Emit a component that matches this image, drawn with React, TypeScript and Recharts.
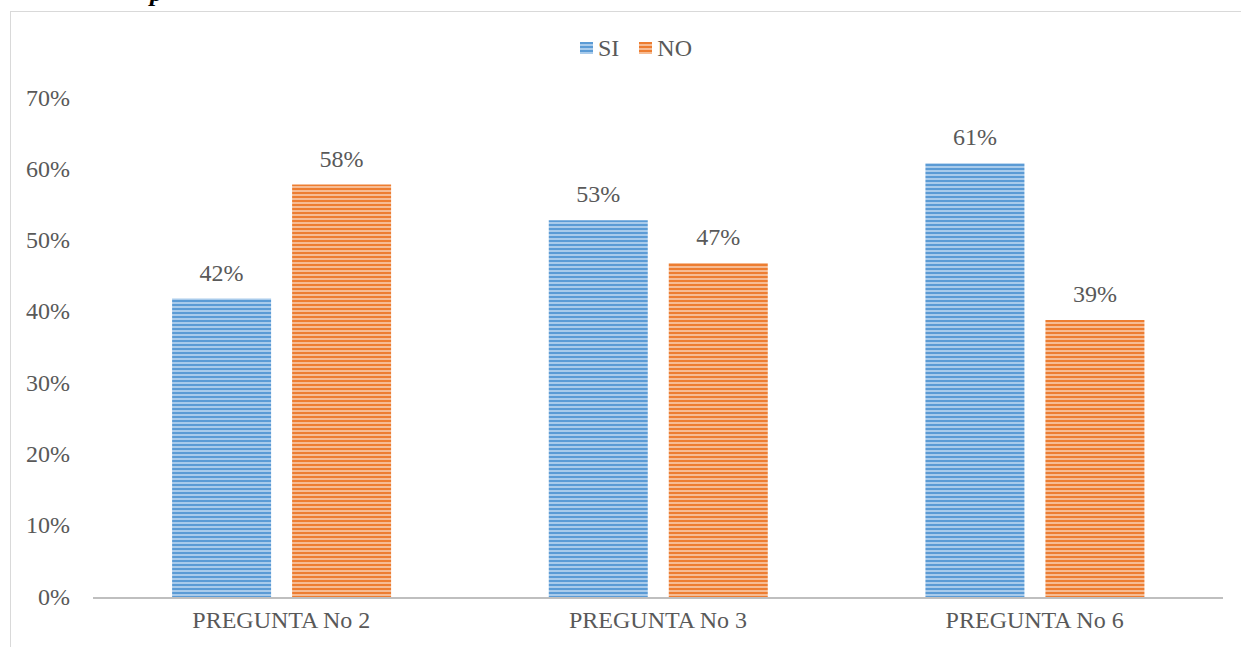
import React from "react";
import { BarChart, Bar, XAxis, YAxis, LabelList } from "recharts";

const categories = ["PREGUNTA No 2", "PREGUNTA No 3", "PREGUNTA No 6"];
const siValues = [0.42, 0.53, 0.61];
const noValues = [0.58, 0.47, 0.39];
const yTicks = [0, 0.1, 0.2, 0.3, 0.4, 0.5, 0.6, 0.7];
const series = [
  { key: "SI", name: "SI", dark: "#5B9BD5", light: "#A9CBEB", pattern: "stripeBlue" },
  { key: "NO", name: "NO", dark: "#ED7D31", light: "#F6BC94", pattern: "stripeOrange" },
];

const data = categories.map((c, i) => ({ name: c, SI: siValues[i], NO: noValues[i] }));

const font = "Liberation Serif";
const textColor = "#595959";
const fs = 24;
const pct = (v: number) => `${Math.round(v * 100)}%`;

export default function App() {
  return (
    <div style={{ position: "fixed", left: 0, top: 0, width: 1241, height: 647, background: "#fff", overflow: "hidden", fontFamily: font }}>
      <svg width="0" height="0" style={{ position: "absolute" }}>
        <defs>
          {series.map((s) => (
            <pattern key={s.pattern} id={s.pattern} patternUnits="userSpaceOnUse" width="8" height="4">
              <rect x="0" y="0" width="8" height="4" fill={s.light} />
              <rect x="0" y="0" width="8" height="2" fill={s.dark} />
            </pattern>
          ))}
        </defs>
      </svg>
      {/* frame */}
      <div style={{ position: "absolute", left: 10, top: 11, width: 1240, height: 700, borderLeft: "1px solid #D9D9D9", borderTop: "1px solid #D9D9D9" }} />
      {/* cut-off caption */}
      <div style={{ position: "absolute", left: 150, top: -22, fontSize: 26, fontStyle: "italic", fontWeight: "bold", color: "#000" }}>p</div>
      {/* legend */}
      <div style={{ position: "absolute", left: 580, top: 34, display: "flex", gap: 20, fontSize: fs, color: textColor, lineHeight: "28px" }}>
        {series.map((s) => (
          <div key={s.key} style={{ display: "flex", alignItems: "center", gap: 5 }}>
            <svg width="13" height="12">
              <rect x="0" y="0" width="13" height="12" fill={`url(#${s.pattern})`} />
            </svg>
            <span>{s.name}</span>
          </div>
        ))}
      </div>
      <div style={{ position: "absolute", left: 0, top: 0 }}>
        <BarChart
          width={1241}
          height={647}
          data={data}
          margin={{ top: 99, right: 18, bottom: 0, left: 0 }}
          barGap={21}
          barCategoryGap="21%"
          style={{ fontFamily: font }}
        >
          <YAxis
            width={93}
            domain={[0, 0.7]}
            ticks={yTicks}
            tickFormatter={pct}
            axisLine={false}
            tickLine={false}
            tickSize={0}
            tickMargin={23}
            tick={{ fill: textColor, fontSize: fs, fontFamily: font, dy: -2 }}
            interval={0}
          />
          <XAxis
            dataKey="name"
            height={49}
            axisLine={{ stroke: "#BFBFBF", strokeWidth: 2 }}
            tickLine={false}
            tickSize={0}
            tickMargin={13}
            tick={{ fill: textColor, fontSize: fs, fontFamily: font }}
          />
          {series.map((s) => (
            <Bar key={s.key} dataKey={s.key} name={s.name} fill={`url(#${s.pattern})`} isAnimationActive={false}>
              <LabelList dataKey={s.key} position="top" offset={18} formatter={(v: any) => pct(Number(v))} style={{ fill: textColor, fontSize: fs, fontFamily: font }} />
            </Bar>
          ))}
        </BarChart>
      </div>
    </div>
  );
}
